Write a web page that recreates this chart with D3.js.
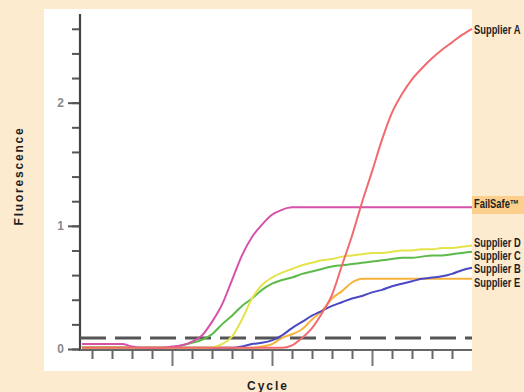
<!DOCTYPE html>
<html>
<head>
<meta charset="utf-8">
<script src="https://cdn.jsdelivr.net/npm/d3@7"></script>
<style>
  html, body { margin: 0; padding: 0; background: #fdebd0; }
  svg { display: block; }
</style>
</head>
<body>
<svg id="chart" width="524" height="392"></svg>
<script>
// cycles 1..40, fluorescence
const cycles = d3.range(1, 41)

const supplierA = [0.01, 0.01, 0.01, 0.01, 0.01, 0.01, 0.01, 0.01, 0.01, 0.01,
  0.01, 0.01, 0.01, 0.01, 0.01, 0.01, 0.01, 0.01, 0.01, 0.01,
  0.01, 0.03, 0.09, 0.17, 0.29, 0.44, 0.68, 0.92, 1.19, 1.44,
  1.70, 1.92, 2.07, 2.19, 2.28, 2.36, 2.43, 2.49, 2.55, 2.60]

const failSafe = [0.04, 0.04, 0.04, 0.04, 0.04, 0.02, 0.01, 0.01, 0.01, 0.02,
  0.03, 0.06, 0.11, 0.22, 0.36, 0.56, 0.76, 0.91, 1.01, 1.09,
  1.13, 1.15, 1.15, 1.15, 1.15, 1.15, 1.15, 1.15, 1.15, 1.15,
  1.15, 1.15, 1.15, 1.15, 1.15, 1.15, 1.15, 1.15, 1.15, 1.15]

const supplierD = [0.01, 0.01, 0.01, 0.01, 0.01, 0.01, 0.01, 0.01, 0.01, 0.01,
  0.01, 0.01, 0.01, 0.015, 0.04, 0.10, 0.24, 0.41, 0.52, 0.58,
  0.62, 0.65, 0.68, 0.70, 0.72, 0.73, 0.75, 0.76, 0.77, 0.78,
  0.78, 0.79, 0.80, 0.80, 0.81, 0.81, 0.82, 0.82, 0.83, 0.84]

const supplierC = [0.01, 0.01, 0.01, 0.01, 0.01, 0.01, 0.01, 0.01, 0.01, 0.01,
  0.03, 0.05, 0.075, 0.12, 0.20, 0.27, 0.35, 0.41, 0.48, 0.53,
  0.56, 0.58, 0.61, 0.63, 0.65, 0.67, 0.68, 0.69, 0.70, 0.71,
  0.72, 0.73, 0.74, 0.74, 0.75, 0.76, 0.76, 0.77, 0.78, 0.79]

const supplierB = [0.01, 0.01, 0.01, 0.01, 0.01, 0.01, 0.01, 0.01, 0.01, 0.01,
  0.01, 0.01, 0.01, 0.01, 0.01, 0.01, 0.02, 0.04, 0.05, 0.07,
  0.11, 0.17, 0.22, 0.27, 0.31, 0.35, 0.38, 0.41, 0.43, 0.46,
  0.48, 0.51, 0.53, 0.55, 0.57, 0.58, 0.59, 0.61, 0.64, 0.66]

const supplierE = [0.015, 0.015, 0.015, 0.015, 0.015, 0.01, 0.01, 0.01, 0.01, 0.01,
  0.01, 0.01, 0.01, 0.01, 0.01, 0.01, 0.01, 0.01, 0.02, 0.04,
  0.09, 0.12, 0.16, 0.24, 0.31, 0.41, 0.47, 0.54, 0.57, 0.57,
  0.57, 0.57, 0.57, 0.57, 0.57, 0.57, 0.57, 0.57, 0.57, 0.57]

const threshold = 0.09
const yTickLabels = ['0', '1', '2']
const xMajorTicks = [10, 20, 30]

const series = [
  { name: 'Supplier E', values: supplierE, color: '#f7b23c', labelY: 287 },
  { name: 'Supplier B', values: supplierB, color: '#4a48c2', labelY: 273 },
  { name: 'Supplier C', values: supplierC, color: '#5cb94a', labelY: 260 },
  { name: 'Supplier D', values: supplierD, color: '#e4e44a', labelY: 247 },
  { name: 'FailSafe™', values: failSafe, color: '#d652a8', labelY: 208 },
  { name: 'Supplier A', values: supplierA, color: '#f26a6e', labelY: 34 },
]

const svg = d3.select('#chart')

svg.append('rect').attr('width', 524).attr('height', 392).attr('fill', '#fdebd0')
svg.append('rect')
  .attr('x', 44).attr('y', 9).attr('width', 428).attr('height', 362)
  .attr('fill', '#ffffff')

const x = d3.scaleLinear().domain([0.8, 40]).range([80, 472])
const y = d3.scaleLinear().domain([0, 2.72]).range([349, 14])

// y axis: minor ticks every 0.2, labelled ones at 0, 1, 2
const yAxis = svg.append('g')
  .attr('transform', 'translate(80,0)')
  .call(d3.axisLeft(y).tickValues(d3.range(0, 2.61, 0.2)).tickSize(8).tickFormat(''))
yAxis.select('.domain').remove()
yAxis.selectAll('line').attr('stroke', '#555').attr('stroke-width', 2)

const yMajor = svg.append('g')
  .attr('transform', 'translate(80,0)')
  .call(d3.axisLeft(y).tickValues(yTickLabels.map(Number)).tickSize(12).tickPadding(4).tickFormat((d, i) => yTickLabels[i]))
yMajor.select('.domain').remove()
yMajor.selectAll('line').attr('stroke', '#555').attr('stroke-width', 2)
yMajor.selectAll('text')
  .attr('fill', '#8a8a8a')
  .style('font-family', 'Liberation Sans, Arial, sans-serif')
  .style('font-size', '12px')
  .style('font-weight', 'bold')

svg.append('line')
  .attr('x1', 80).attr('x2', 80).attr('y1', 14).attr('y2', 351)
  .attr('stroke', '#444').attr('stroke-width', 2.2)

// x axis: ticks every 2 cycles below, longer ones every 10
const xAxis = svg.append('g')
  .attr('transform', 'translate(0,350)')
  .call(d3.axisBottom(x).tickValues(d3.range(2, 39, 2).filter(d => !xMajorTicks.includes(d))).tickSize(9).tickFormat(''))
xAxis.select('.domain').remove()
xAxis.selectAll('line').attr('stroke', '#666').attr('stroke-width', 2)

const xMajor = svg.append('g')
  .attr('transform', 'translate(0,350)')
  .call(d3.axisBottom(x).tickValues(xMajorTicks).tickSize(16).tickFormat(''))
xMajor.select('.domain').remove()
xMajor.selectAll('line').attr('stroke', '#777').attr('stroke-width', 2)

svg.append('line')
  .attr('x1', 80).attr('x2', 472).attr('y1', 350).attr('y2', 350)
  .attr('stroke', '#666').attr('stroke-width', 2.2)

// threshold
svg.append('line')
  .attr('x1', x(0.8)).attr('x2', x(40))
  .attr('y1', y(threshold)).attr('y2', y(threshold))
  .attr('stroke', '#555').attr('stroke-width', 3)
  .attr('stroke-dasharray', '26 9')

const line = d3.line()
  .x((d, i) => x(cycles[i]))
  .y(d => y(d))
  .curve(d3.curveMonotoneX)

svg.append('g')
  .selectAll('path')
  .data(series)
  .join('path')
  .attr('d', d => line(d.values))
  .attr('fill', 'none')
  .attr('stroke', d => d.color)
  .attr('stroke-width', 2)
  .attr('stroke-linejoin', 'round')

// series labels on the right, squeezed horizontally like a narrow font
svg.append('rect')
  .attr('x', 472).attr('y', 196).attr('width', 52).attr('height', 18)
  .attr('fill', '#fccf8c')

svg.append('g')
  .selectAll('text')
  .data(series)
  .join('text')
  .attr('transform', d => `translate(474,${d.labelY}) scale(0.78,1)`)
  .text(d => d.name)
  .attr('fill', '#1e1e1e')
  .style('font-family', 'Liberation Sans, Arial, sans-serif')
  .style('font-size', '12px')
  .style('font-weight', 'bold')

svg.append('text')
  .attr('transform', 'translate(23,176) rotate(-90)')
  .attr('text-anchor', 'middle')
  .text('Fluorescence')
  .attr('fill', '#1e1e1e')
  .style('font-family', 'Liberation Sans, Arial, sans-serif')
  .style('font-size', '12px')
  .style('font-weight', 'bold')
  .style('letter-spacing', '1.8px')

svg.append('text')
  .attr('x', 268).attr('y', 390)
  .attr('text-anchor', 'middle')
  .text('Cycle')
  .attr('fill', '#1e1e1e')
  .style('font-family', 'Liberation Sans, Arial, sans-serif')
  .style('font-size', '12px')
  .style('font-weight', 'bold')
  .style('letter-spacing', '2px')
</script>
</body>
</html>
